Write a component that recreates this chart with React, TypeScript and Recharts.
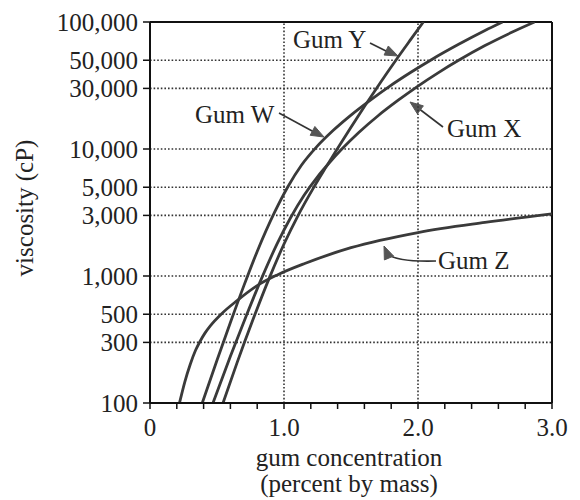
import React from "react";
import {
  LineChart,
  Line,
  XAxis,
  YAxis,
  ReferenceLine,
  Customized,
} from "recharts";

// ---- data (gum concentration, % by mass  ->  viscosity, cP) ----
const gumWx = [0.39, 0.5, 0.6, 0.7, 0.8, 0.93, 1.03, 1.13, 1.24, 1.37, 1.5, 1.65, 1.79, 1.95, 2.1, 2.3, 2.5, 2.63];
const gumWv = [100, 217, 430, 836, 1560, 3180, 5070, 7450, 10300, 14100, 18500, 24500, 31300, 40400, 50500, 66400, 85700, 100000];

const gumXx = [0.47, 0.6, 0.72, 0.84, 0.95, 1.05, 1.15, 1.25, 1.34, 1.43, 1.56, 1.7, 1.85, 2.0, 2.15, 2.3, 2.5, 2.7, 2.87];
const gumXv = [100, 233, 491, 998, 1806, 2890, 4325, 6040, 7830, 9940, 13550, 18200, 24100, 31300, 39800, 49700, 65200, 82900, 100000];

const gumYx = [0.545, 0.65, 0.77, 0.89, 1.0, 1.1, 1.22, 1.31, 1.4, 1.5, 1.6, 1.72, 1.84, 1.95, 2.04];
const gumYv = [100, 208, 458, 962, 1786, 2926, 4940, 7100, 10100, 14860, 21600, 33400, 50900, 73900, 100000];

const gumZx = [0.22, 0.26, 0.3, 0.34, 0.373, 0.41, 0.45, 0.535, 0.65, 0.8, 0.95, 1.16, 1.5, 2.0, 2.5, 3.0];
const gumZv = [100, 147, 201, 260, 305, 355, 405, 505, 640, 840, 1020, 1260, 1670, 2200, 2640, 3080];

const xTicks = [0, 0.2, 0.4, 0.6, 0.8, 1.0, 1.2, 1.4, 1.6, 1.8, 2.0, 2.2, 2.4, 2.6, 2.8, 3.0];
const yTicks = [100, 300, 500, 1000, 3000, 5000, 10000, 30000, 50000, 100000];
const gridY = [300, 500, 1000, 3000, 5000, 10000, 30000, 50000];
const gridX = [1.0, 2.0];

const seriesNames = ["Gum W", "Gum X", "Gum Y", "Gum Z"];

const zip = (xs: number[], vs: number[]) => xs.map((x, i) => ({ x, v: vs[i] }));
const seriesData = [zip(gumWx, gumWv), zip(gumXx, gumXv), zip(gumYx, gumYv), zip(gumZx, gumZv)];

const FONT = "'Liberation Serif', 'Times New Roman', serif";
const INK = "#222";
const CURVE = "#3a3a3a";

const Arrow = ({ d, tip, from }: { d: string; tip: [number, number]; from: [number, number] }) => {
  const [tx, ty] = tip;
  const [fx, fy] = from;
  const ang = Math.atan2(ty - fy, tx - fx);
  const L = 13;
  const W = 5;
  const bx = tx - L * Math.cos(ang);
  const by = ty - L * Math.sin(ang);
  const px = -Math.sin(ang) * W;
  const py = Math.cos(ang) * W;
  return (
    <g>
      <path d={d} fill="none" stroke="#333" strokeWidth={1.6} />
      <polygon
        points={`${tx},${ty} ${bx + px},${by + py} ${bx - px},${by - py}`}
        fill="#555"
        stroke="#555"
        strokeWidth={1}
      />
    </g>
  );
};

const Annotations = () => (
  <g fontFamily={FONT} fill={INK}>
    <text x={25} y={200} transform="rotate(-90 25 200)" textAnchor="middle" fontSize={25} fill={INK}>
      viscosity (cP)
    </text>
    <text x={341} y={458} textAnchor="middle" fontSize={25} fill={INK}>
      gum concentration
    </text>
    <text x={341} y={484} textAnchor="middle" fontSize={25} fill={INK}>
      (percent by mass)
    </text>

    <text x={285} y={40} fontSize={25} fill={INK}>{seriesNames[2]}</text>
    <Arrow d="M362,35 L382,45" tip={[390, 48]} from={[362, 35]} />

    <text x={187} y={115} fontSize={25} fill={INK}>{seriesNames[0]}</text>
    <Arrow d="M271,105 L306,124" tip={[316, 129]} from={[271, 105]} />

    <text x={439} y={129} fontSize={25} fill={INK}>{seriesNames[1]}</text>
    <Arrow d="M435,119 L410,100" tip={[402, 94]} from={[435, 119]} />

    <text x={430} y={261} fontSize={25} fill={INK}>{seriesNames[3]}</text>
    <Arrow d="M428,253 Q388,254 380,246" tip={[376, 238]} from={[381, 250]} />
  </g>
);

const fmtX = (v: number) => (v === 0 ? "0" : Math.abs(v - Math.round(v)) < 1e-9 ? v.toFixed(1) : "");
const fmtY = (v: number) => v.toLocaleString("en-US");

export default function App() {
  return (
    <div style={{ width: 564, height: 490, background: "#fff" }}>
      <LineChart width={564} height={490} margin={{ top: 14, right: 20, bottom: 65, left: 42 }}>
        <XAxis
          type="number"
          dataKey="x"
          domain={[0, 3]}
          ticks={xTicks}
          interval={0}
          tickFormatter={fmtX}
          tickSize={6}
          tickMargin={9}
          height={30}
          axisLine={{ stroke: "#111", strokeWidth: 2 }}
          tickLine={{ stroke: "#111", strokeWidth: 1.5 }}
          tick={{ fontFamily: FONT, fontSize: 25, fill: INK }}
          allowDataOverflow
        />
        <YAxis
          type="number"
          scale="log"
          domain={[100, 100000]}
          ticks={yTicks}
          interval={0}
          tickFormatter={fmtY}
          width={100}
          tickSize={7}
          tickMargin={5}
          axisLine={{ stroke: "#111", strokeWidth: 2 }}
          tickLine={{ stroke: "#111", strokeWidth: 1.5 }}
          tick={{ fontFamily: FONT, fontSize: 25, fill: INK }}
          allowDataOverflow
        />
        {gridY.map((g) => (
          <ReferenceLine key={"gy" + g} y={g} stroke="#333" strokeWidth={1.6} strokeDasharray="1.6 2" />
        ))}
        {gridX.map((g) => (
          <ReferenceLine key={"gx" + g} x={g} stroke="#333" strokeWidth={1.6} strokeDasharray="1.6 2" />
        ))}
        <ReferenceLine y={100000} stroke="#111" strokeWidth={2} />
        <ReferenceLine x={3} stroke="#111" strokeWidth={2} />
        {seriesData.map((d, i) => (
          <Line
            key={seriesNames[i]}
            name={seriesNames[i]}
            data={d}
            dataKey="v"
            type="monotone"
            stroke={CURVE}
            strokeWidth={2.8}
            dot={false}
            activeDot={false}
            isAnimationActive={false}
          />
        ))}
        <Customized component={<Annotations />} />
      </LineChart>
    </div>
  );
}
